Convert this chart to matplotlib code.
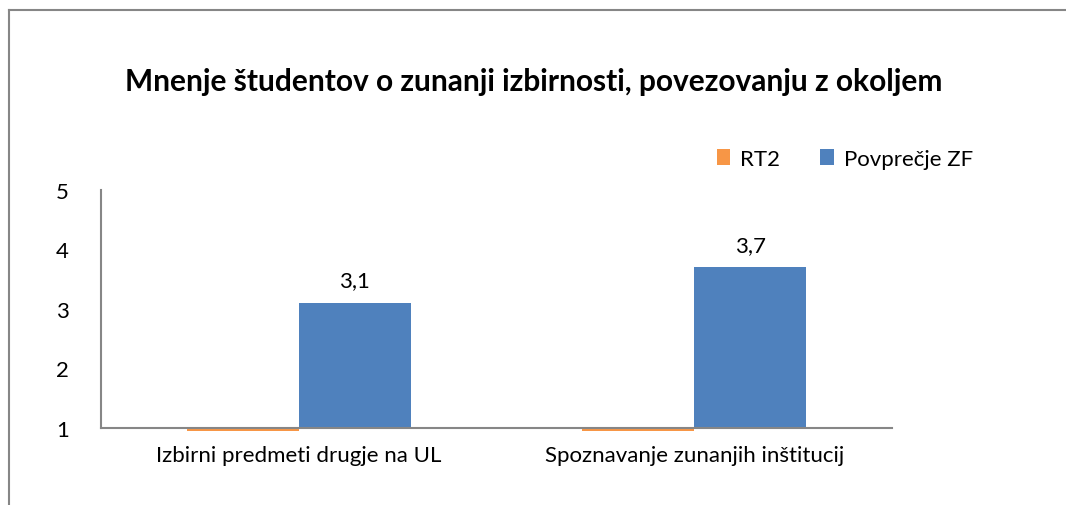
import matplotlib
matplotlib.use("Agg")
import matplotlib.pyplot as plt
from matplotlib.lines import Line2D
import numpy as np

plt.rcParams['font.family'] = ['Lato', 'DejaVu Sans']

categories = ["Izbirni predmeti drugje na UL", "Spoznavanje zunanjih inštitucij"]
series_names = ["RT2", "Povprečje ZF"]
rt2 = [0.95, 0.95]
zf = [3.1, 3.7]
zf_labels = ["3,1", "3,7"]
colors = ["#F79646", "#4F81BD"]
yticks = [1, 2, 3, 4, 5]

fig = plt.figure(figsize=(10.66, 5.06), dpi=100)
W, H = 1066, 506
ax = fig.add_axes([101 / W, (H - 429) / H, (892 - 101) / W, (429 - 191) / H])

x = np.arange(len(categories))
w = 0.283
base = 1
ax.bar(x - w / 2, np.array(rt2) - base, w, bottom=base, color=colors[0],
       label=series_names[0], clip_on=False, zorder=1)
bars = ax.bar(x + w / 2, np.array(zf) - base, w, bottom=base, color=colors[1],
              label=series_names[1], zorder=2)
for b, lab in zip(bars, zf_labels):
    ax.annotate(lab, (b.get_x() + b.get_width() / 2, b.get_y() + b.get_height()),
                xytext=(0, 9), textcoords="offset points", ha="center", va="bottom",
                fontsize=16)

ax.set_xlim(-0.5, len(categories) - 0.5)
ax.set_ylim(1, 5)
ax.set_yticks(yticks)
ax.set_yticklabels([str(t) for t in yticks], fontsize=16)
ax.set_xticks(x)
ax.set_xticklabels(categories, fontsize=16)
ax.tick_params(axis="y", length=0, pad=23)
ax.tick_params(axis="x", length=0, pad=12)
for s in ["top", "right"]:
    ax.spines[s].set_visible(False)
for s in ["left", "bottom"]:
    ax.spines[s].set_color("#868686")
    ax.spines[s].set_linewidth(1.5)
    ax.spines[s].set_zorder(3)

fig.text(0.5 * (127 + 940) / W, (H - 82) / H,
         "Mnenje študentov o zunanji izbirnosti, povezovanju z okoljem",
         ha="center", va="center", fontsize=21.5, fontweight="bold")

fig.legend(loc="center left", bbox_to_anchor=(717 / W, (H - 160) / H), ncol=2,
           frameon=False, fontsize=16, handlelength=0.6, handleheight=0.75,
           handletextpad=0.45, columnspacing=1.8, borderaxespad=0, borderpad=0)

# chart area border (cropped at right and bottom)
fig.add_artist(Line2D([9 / W, 9 / W], [0, (H - 11) / H], color="#868686", lw=1.5))
fig.add_artist(Line2D([9 / W, 1], [(H - 11) / H, (H - 11) / H], color="#868686", lw=1.5))

fig.savefig("out.png", dpi=100)
